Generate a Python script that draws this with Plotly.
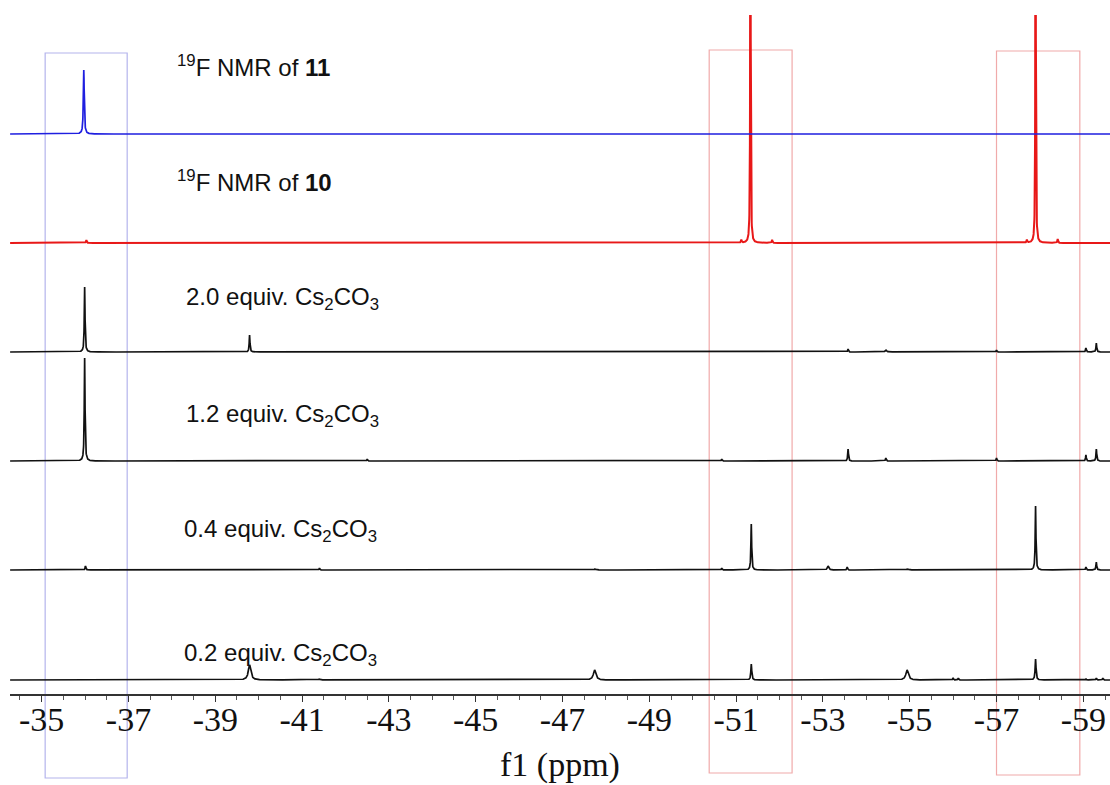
import numpy as np
import plotly.graph_objects as go

# ---------------- data ----------------
# peak lists: chemical shift (ppm), peak height (plot units), half-width (ppm)
spec11_ppm = [-35.97]
spec11_h = [64]
spec11_w = [0.012]

spec10_ppm = [-36.03, -51.12, -51.33, -51.83, -57.70, -57.90, -58.41]
spec10_h = [3, 3, 520, 3, 3, 520, 4]
spec10_w = [0.01, 0.01, 0.006, 0.01, 0.01, 0.006, 0.01]

eq20_ppm = [-35.99, -39.79, -53.58, -54.45, -57.00, -59.06, -59.30]
eq20_h = [65, 17, 3, 2, 2, 4, 9]
eq20_w = [0.01, 0.01, 0.01, 0.02, 0.01, 0.01, 0.01]

eq12_ppm = [-35.99, -42.50, -50.67, -53.58, -54.45, -57.00, -59.06, -59.30]
eq12_h = [103, 2, 2, 12, 3, 3, 6, 12]
eq12_w = [0.01, 0.01, 0.01, 0.01, 0.01, 0.01, 0.01, 0.01]

eq04_ppm = [-36.01, -41.40, -47.75, -50.67, -51.35, -53.12, -53.56, -54.95, -57.90, -59.06, -59.30]
eq04_h = [4, 2, 1, 2, 46, 4, 3, 1, 64, 3, 8]
eq04_w = [0.01, 0.01, 0.03, 0.01, 0.01, 0.02, 0.01, 0.03, 0.01, 0.01, 0.01]

eq02_ppm = [-39.79, -41.40, -47.74, -51.35, -54.94, -56.00, -56.12, -57.90, -59.06, -59.30, -59.45]
eq02_h = [15, 1, 10, 16, 10, 2, 2, 21, 1, 2, 2]
eq02_w = [0.035, 0.02, 0.035, 0.012, 0.035, 0.01, 0.01, 0.012, 0.01, 0.01, 0.01]

labels = ["<sup>19</sup>F NMR of <b>11</b>", "<sup>19</sup>F NMR of <b>10</b>",
          "2.0 equiv. Cs<sub>2</sub>CO<sub>3</sub>", "1.2 equiv. Cs<sub>2</sub>CO<sub>3</sub>",
          "0.4 equiv. Cs<sub>2</sub>CO<sub>3</sub>", "0.2 equiv. Cs<sub>2</sub>CO<sub>3</sub>"]

tick_vals = [-35, -37, -39, -41, -43, -45, -47, -49, -51, -53, -55, -57, -59]

# highlighted regions (ppm)
blue_box = (-35.08, -36.97)
red_boxes = [(-50.38, -52.29), (-57.00, -58.92)]

# ---------------- layout / style ----------------
X_RANGE = [-34.27, -59.615]
offsets = [560, 451, 342, 233, 124, 14]   # vertical stacking of spectra
colors = ["#1f1fe0", "#e81818", "#111111", "#111111", "#111111", "#111111"]
widths = [1.7, 2.0, 1.7, 1.7, 1.7, 1.7]
label_pos = [(175, 66), (175, 181), (184, 298), (184, 415), (182, 530), (182, 654)]  # px

W, H = 1110, 785
ML, MR, MT, MB = 10, 0, 15, 91
PW, PH = W - ML - MR, H - MT - MB


def px_to_paper(px, py):
    return (px - ML) / PW, (H - MB - py) / PH


def ppm_to_paper(ppm):
    return (ppm - X_RANGE[0]) / (X_RANGE[1] - X_RANGE[0])


grid = np.arange(X_RANGE[1], X_RANGE[0], 0.0025)
all_centres = np.array(spec10_ppm + spec11_ppm + eq20_ppm + eq12_ppm + eq04_ppm + eq02_ppm)
grid = np.unique(np.concatenate([grid, all_centres]))[::-1]


def spectrum(ppm, h, w):
    y = np.zeros_like(grid)
    for p, a, g in zip(ppm, h, w):
        y += a * g * g / ((grid - p) ** 2 + g * g)
    return y


series = [(spec11_ppm, spec11_h, spec11_w), (spec10_ppm, spec10_h, spec10_w),
          (eq20_ppm, eq20_h, eq20_w), (eq12_ppm, eq12_h, eq12_w),
          (eq04_ppm, eq04_h, eq04_w), (eq02_ppm, eq02_h, eq02_w)]

fig = go.Figure()
order = [1, 0, 2, 3, 4, 5]
for i in order:
    p, h, w = series[i]
    fig.add_trace(go.Scatter(x=grid, y=spectrum(p, h, w) + offsets[i], mode="lines",
                             line=dict(color=colors[i], width=widths[i]), hoverinfo="skip",
                             showlegend=False))

shapes = []
shapes.append(dict(type="rect", xref="paper", yref="paper",
                   x0=ppm_to_paper(blue_box[0]), x1=ppm_to_paper(blue_box[1]),
                   y0=px_to_paper(0, 778)[1], y1=px_to_paper(0, 53)[1],
                   line=dict(color="#b4b4ec", width=1.2), layer="below"))
for (a, b), (t, btm) in zip(red_boxes, [(50, 773), (51, 775)]):
    shapes.append(dict(type="rect", xref="paper", yref="paper",
                       x0=ppm_to_paper(a), x1=ppm_to_paper(b),
                       y0=px_to_paper(0, btm)[1], y1=px_to_paper(0, t)[1],
                       line=dict(color="#f0aaaa", width=1.2), layer="below"))

annotations = []
for txt, (lx, ly) in zip(labels, label_pos):
    ax, ay = px_to_paper(lx, ly)
    annotations.append(dict(text=txt, xref="paper", yref="paper", x=ax, y=ay,
                            xanchor="left", yanchor="middle", showarrow=False,
                            font=dict(family="Liberation Sans, Arial", size=24, color="#111111")))

fig.update_layout(
    width=W, height=H,
    margin=dict(l=ML, r=MR, t=MT, b=MB),
    paper_bgcolor="white", plot_bgcolor="white",
    shapes=shapes, annotations=annotations,
    xaxis=dict(range=X_RANGE, showgrid=False, zeroline=False,
               showline=True, linecolor="#333333", linewidth=1.5,
               ticks="outside", ticklen=6, tickwidth=1.2, tickcolor="#333333",
               tickvals=tick_vals, ticktext=[str(v) for v in tick_vals],
               ticklabelstandoff=-12,
               minor=dict(dtick=0.5, tick0=-35, ticks="outside", ticklen=4,
                          tickwidth=1, tickcolor="#555555"),
               tickfont=dict(family="Liberation Serif, Times New Roman", size=34, color="#111111"),
               title=dict(text="f1 (ppm)", standoff=16,
                          font=dict(family="Liberation Serif, Times New Roman", size=34,
                                    color="#111111"))),
    yaxis=dict(range=[0, PH], visible=False, showgrid=False, zeroline=False, fixedrange=True),
)

fig.write_html("out.html", config={"displayModeBar": False},
               post_script="document.body.style.margin='0';")
